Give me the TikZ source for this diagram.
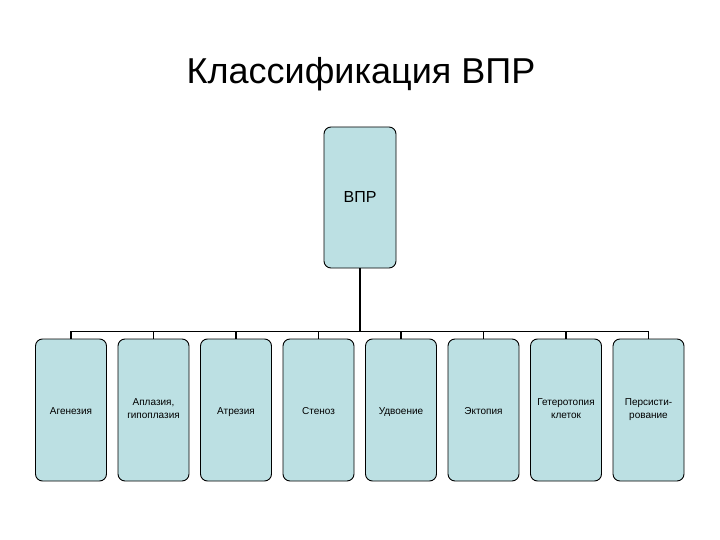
\documentclass[tikz,border=0pt]{standalone}
\usepackage{fontspec}
\setmainfont{Liberation Sans}
\usepackage{xcolor}
\usetikzlibrary{positioning}

\definecolor{boxfill}{RGB}{188,224,227}

\begin{document}
\begin{tikzpicture}[x=1pt,y=1pt,node distance=10.6pt,
    vprbox/.style={%
      rectangle,rounded corners=7pt,draw,line width=0.9pt,fill=boxfill,
      minimum width=71pt,minimum height=142pt,align=center,
      execute at begin node={\rule{0pt}{12pt}},
      execute at end node={\rule[-2.8pt]{0pt}{2.8pt}},
      font=\fontsize{10}{13}\selectfont},
    link/.style={line width=1.8pt}
  ]
    \useasboundingbox (0,0) rectangle (720,-540);
    \node[anchor=base,font=\fontsize{36}{40}\selectfont] (title) at (361,-84) {Классификация ВПР};
    \node[vprbox,minimum width=72pt,minimum height=141pt,
          font=\fontsize{16}{18}\selectfont] (vpr) at (360,-197.5) {ВПР};
    \node[vprbox] (agen) at (71,-410)                  {Агенезия};
    \node[vprbox] (apl) [right=of agen]                {Аплазия,\\ гипоплазия};
    \node[vprbox] (atr) [right=of apl]                 {Атрезия};
    \node[vprbox] (sten) [right=of atr]                {Стеноз};
    \node[vprbox] (udv) [right=of sten]                {Удвоение};
    \node[vprbox] (ekt) [right=of udv]                 {Эктопия};
    \node[vprbox] (get) [right=of ekt]                 {Гетеротопия\\ клеток};
    \node[vprbox] (pers) [right=of get]                {Персисти-\\ рование};
    \foreach \b in {agen,apl,atr,sten,udv,ekt,get,pers}
      \draw[link] (vpr.south) -- ++(0,-63) -| (\b.north);
  \end{tikzpicture}
\end{document}
